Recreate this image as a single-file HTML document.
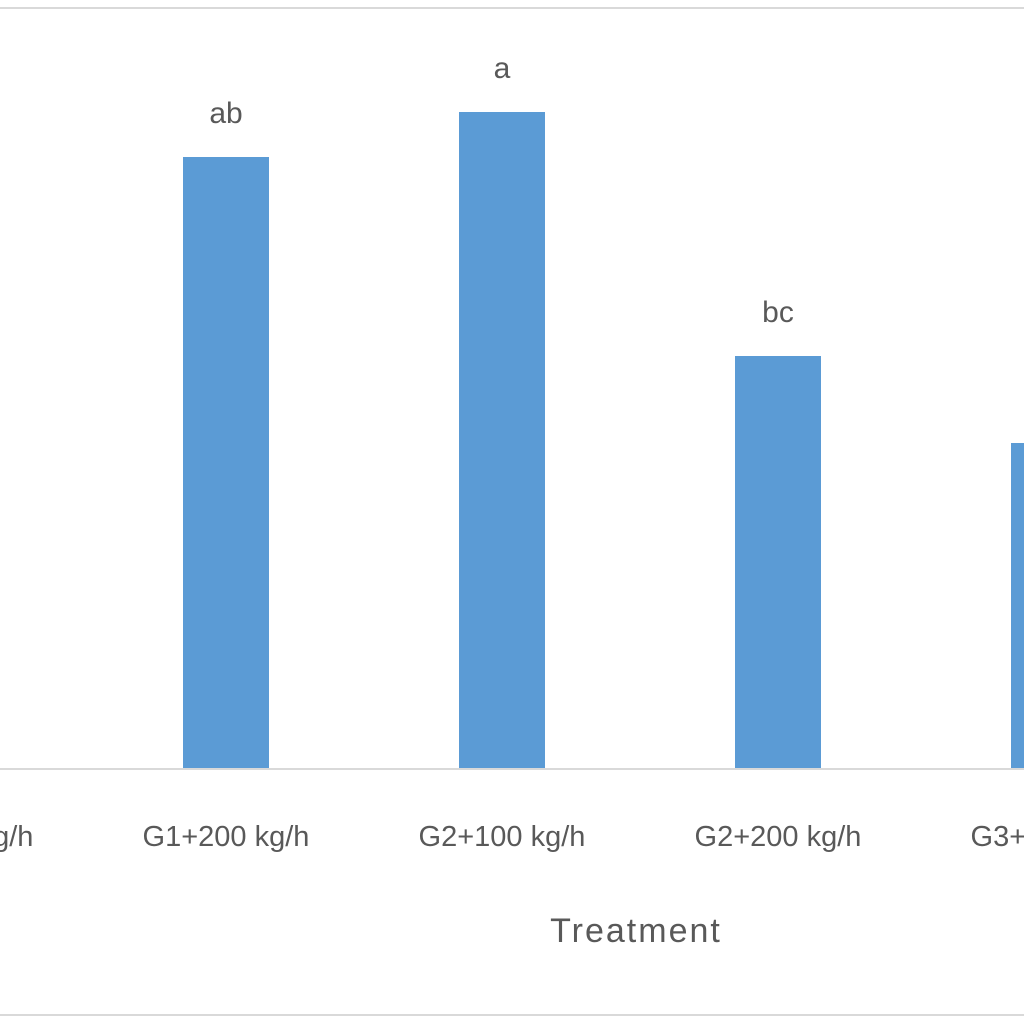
<!DOCTYPE html>
<html><head><meta charset="utf-8"><style>
html,body{margin:0;padding:0;background:#fff;}
svg{display:block;}
text{font-family:"Liberation Sans",sans-serif;fill:#595959;}
</style></head><body>
<svg id="chart" width="1024" height="1024">
<rect x="-2" y="8" width="1040" height="1007" fill="#fff" stroke="#d9d9d9" stroke-width="2"/>
<g id="bars"></g>
<line x1="0" y1="769" x2="1024" y2="769" stroke="#d9d9d9" stroke-width="2"/>
<g id="xlabels"></g>
<text x="636" y="942" font-size="34" text-anchor="middle" letter-spacing="2">Treatment</text>
</svg>
<script>
const categories = ["G1+100 kg/h","G1+200 kg/h","G2+100 kg/h","G2+200 kg/h","G3+100 kg/h"];
const values = [0, 6.12, 6.57, 4.13, 3.26];
const letters = ["", "ab", "a", "bc", ""];

const baseY = 769, pxPerUnit = 100, band = 276, firstCenter = -50, barW = 86;
function xCenter(i){ return firstCenter + i*band; }
function yPos(v){ return baseY - v*pxPerUnit; }

const NS = "http://www.w3.org/2000/svg";
const gb = document.getElementById('bars');
const gl = document.getElementById('xlabels');
categories.forEach((c,i)=>{
  const v = values[i];
  if (v > 0) {
    const r = document.createElementNS(NS,'rect');
    r.setAttribute('x', xCenter(i)-barW/2);
    r.setAttribute('y', yPos(v));
    r.setAttribute('width', barW);
    r.setAttribute('height', baseY - yPos(v));
    r.setAttribute('fill', '#5b9bd5');
    
    
    gb.appendChild(r);
  }
  if (letters[i]) {
    const t = document.createElementNS(NS,'text');
    t.setAttribute('x', xCenter(i));
    t.setAttribute('y', yPos(v) - 34);
    t.setAttribute('font-size', '30');
    t.setAttribute('text-anchor', 'middle');
    t.textContent = letters[i];
    
    
    gb.appendChild(t);
  }
  const l = document.createElementNS(NS,'text');
  l.setAttribute('x', xCenter(i));
  l.setAttribute('y', 846);
  l.setAttribute('font-size', '29');
  l.setAttribute('text-anchor', 'middle');
  l.textContent = c;
  
  
  gl.appendChild(l);
});
</script>
</body></html>
